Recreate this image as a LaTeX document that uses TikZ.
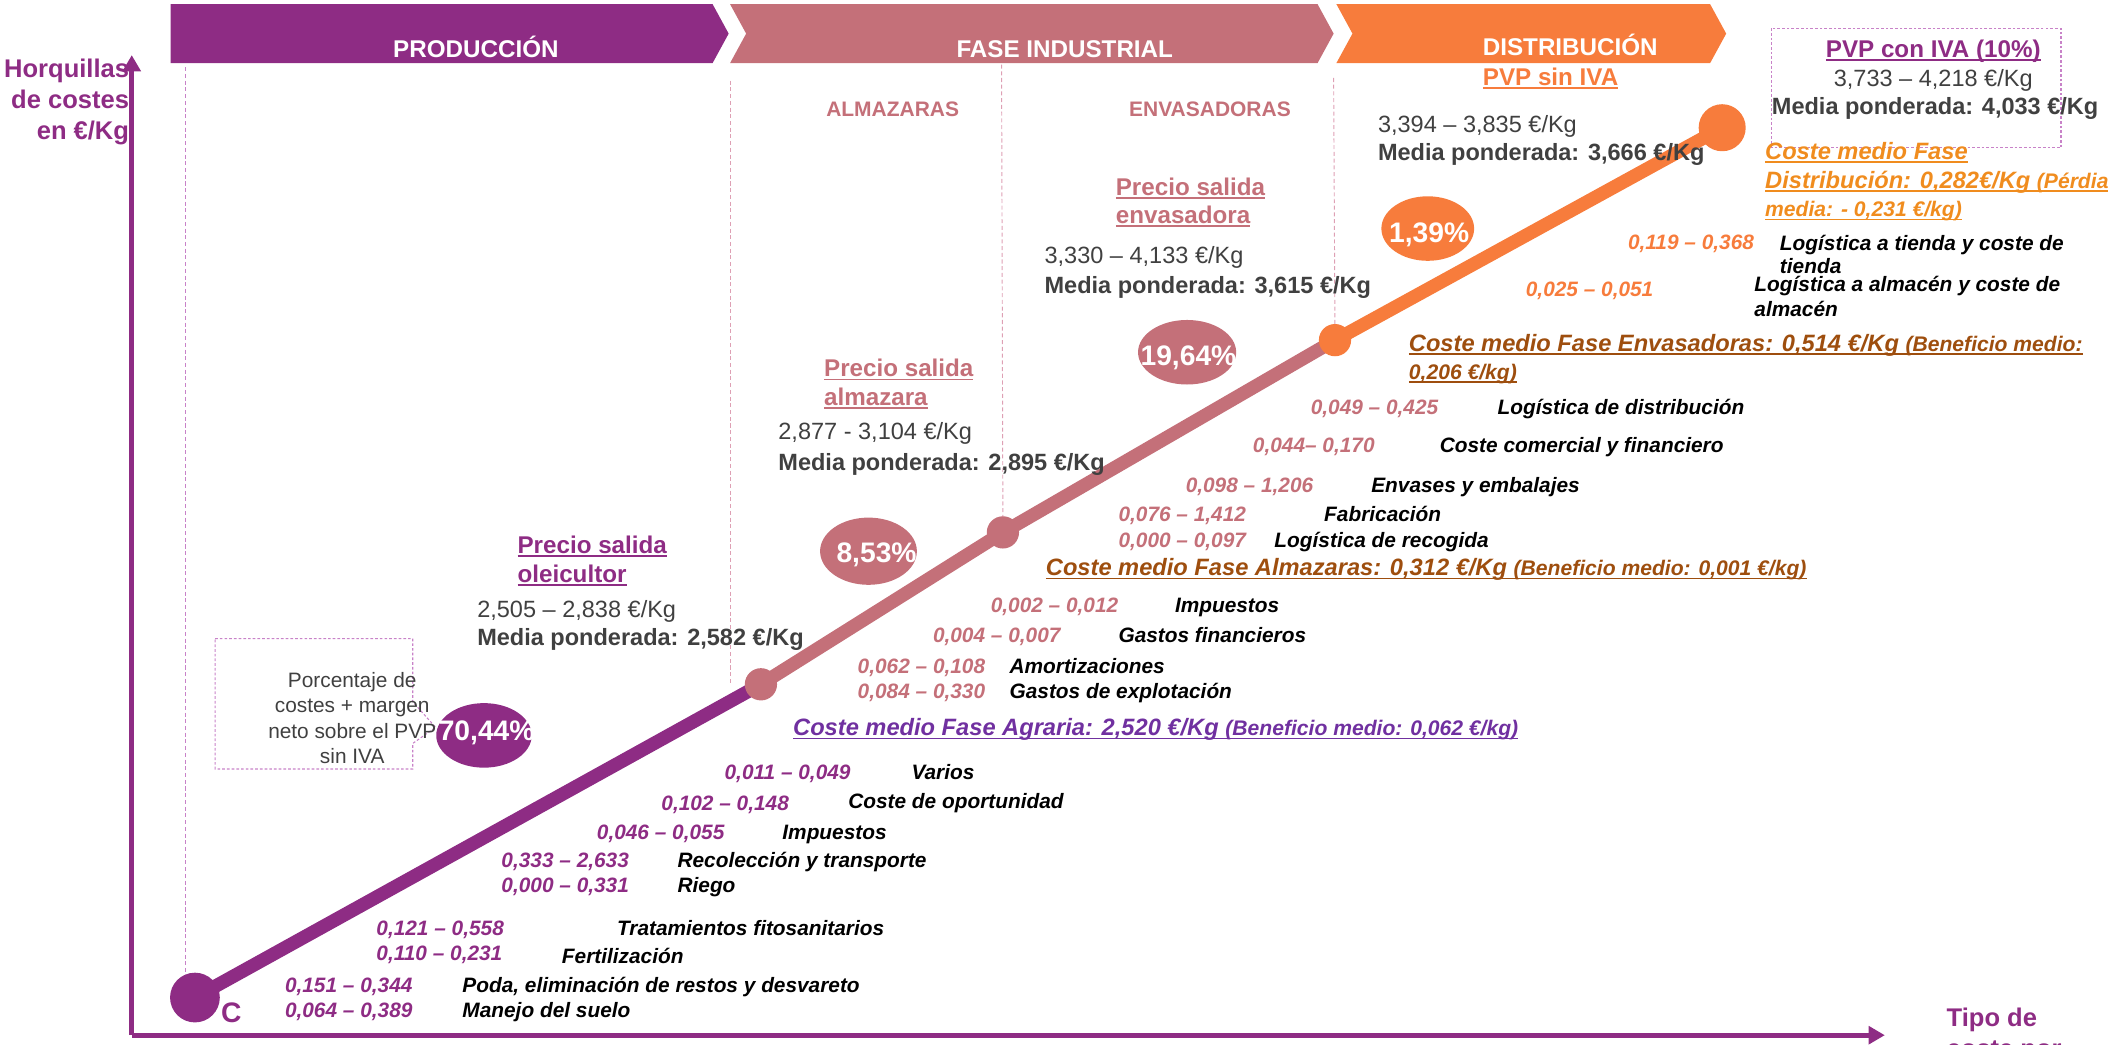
\documentclass[tikz,border=0pt]{standalone}
\usepackage{fontspec}
\setmainfont{Liberation Sans}
\usetikzlibrary{arrows.meta,shapes.geometric}
\definecolor{cPur}{RGB}{142,44,132}
\definecolor{cPink}{RGB}{196,112,121}
\definecolor{cOra}{RGB}{247,124,60}
\definecolor{cGold}{RGB}{240,140,30}
\definecolor{cBrown}{RGB}{158,78,14}
\definecolor{cViol}{RGB}{112,48,160}
\definecolor{cGray}{RGB}{64,64,64}
\definecolor{cDash}{RGB}{222,160,180}
\definecolor{cDashP}{RGB}{200,130,200}
\newcommand\ulx[1]{\setbox0\hbox{#1}\rlap{\rule[-2.6pt]{\wd0}{1.3pt}}\box0}
\newcommand\smf{\fontsize{15.7}{18}\selectfont}
\begin{document}
\begin{tikzpicture}[x=1pt,y=-1pt,
  every node/.style={inner sep=0pt,outer sep=0pt},
  hdr/.style={anchor=base,yshift=-6.4pt,text=white,font=\fontsize{18}{20}\selectfont\bfseries},
  sect/.style={anchor=base,yshift=-5.6pt,text=cPink,font=\fontsize{15.6}{18}\selectfont\bfseries},
  ttl/.style={anchor=base west,yshift=-6.4pt,font=\fontsize{18}{20}\selectfont\bfseries},
  rng/.style={anchor=base west,yshift=-6.2pt,text=cGray,font=\fontsize{17.5}{20}\selectfont},
  med/.style={anchor=base west,yshift=-6.2pt,text=cGray,font=\fontsize{17.5}{20}\selectfont\bfseries},
  cst/.style={anchor=base west,yshift=-5.6pt,font=\fontsize{15.5}{18}\selectfont\bfseries\itshape},
  nA/.style={cst,text=cPur}, nB/.style={cst,text=cPink}, nC/.style={cst,text=cOra},
  itm/.style={cst,text=black},
  avg/.style={anchor=base west,yshift=-6.3pt,font=\fontsize{17.6}{20}\selectfont\bfseries\itshape},
  pct/.style={anchor=base,yshift=-7.5pt,text=white,font=\fontsize{21}{24}\selectfont\bfseries},
  sep/.style={cDash,line width=0.7pt,dash pattern=on 3pt off 2pt},
  route/.style={line width=10pt},
  dotnode/.style={circle,minimum size=24pt},
  bub/.style={ellipse,minimum width=72pt,minimum height=48pt},
  axisline/.style={cPur,line width=3.7pt,-{Triangle[length=12pt,width=13pt]}},
  boxdash/.style={cDashP,line width=0.8pt,dash pattern=on 2pt off 1.5pt},
  ylab/.style={anchor=base east,yshift=-6.8pt,text=cPur,font=\fontsize{19}{21}\selectfont\bfseries}]
\useasboundingbox (0,0) rectangle (1568,777);

% header chevrons
\fill[cPur] (127,3) -- (530,3) -- (542,25) -- (530,47) -- (127,47) -- cycle;
\fill[cPink] (543,3) -- (980,3) -- (992,25) -- (980,47) -- (543,47) -- (555,25) -- cycle;
\fill[cOra] (994,3) -- (1272,3) -- (1284,25) -- (1272,47) -- (994,47) -- (1006,25) -- cycle;
\node[hdr] (hProd) at (354,36) {PRODUCCIÓN};
\node[hdr] (hInd) at (792,36) {FASE INDUSTRIAL};
\node[hdr] (hDist) at (1168,35) {DISTRIBUCIÓN};

% axes
\coordinate (o) at (98,770);
\coordinate (ytip) at (98,41);
\coordinate (xtip) at (1402,770);
\draw[axisline] (o) -- (ytip);
\draw[axisline] (o) -- (xtip);
\node[ylab] (yl1) at (96,51) {Horquillas};
\node[ylab] (yl2) at (96,74) {de costes};
\node[ylab] (yl3) at (96,97) {en €/Kg};
\node[anchor=base west,yshift=-6.8pt,text=cPur,font=\fontsize{19}{20}\selectfont\bfseries] (xl1) at (1448,757) {Tipo de};
\node[anchor=base west,yshift=-6.8pt,text=cPur,font=\fontsize{19}{20}\selectfont\bfseries] (xl2) at (1448,780) {coste por};

% route points
\coordinate (p0) at (145,742);
\coordinate (p1) at (566,509);
\coordinate (p2) at (746,396);
\coordinate (p3) at (993,253);
\coordinate (p4) at (1281,95);

% separators
\coordinate (s0) at (138,50);
\coordinate (s1) at (543,60);
\coordinate (s2) at (745,48);
\coordinate (s3) at (992,58);
\draw[sep,cDashP] (s0) -- (s0 |- p0);
\draw[sep] (s1) -- (s1 |- p1);
\draw[sep] (s2) -- (p2);
\draw[sep] (s3) -- (p3);

% route
\draw[route,cPur] (p0) -- (p1);
\draw[route,cPink] (p1) -- (p2) -- (p3);
\draw[route,cOra] (p3) -- (p4);
\node[dotnode,fill=cPur,minimum size=37pt] (nC0) at (p0) {};
\node[dotnode,fill=cPink] (n1) at (p1) {};
\node[dotnode,fill=cPink] (n2) at (p2) {};
\node[dotnode,fill=cOra] (n3) at (p3) {};
\node[dotnode,fill=cOra,minimum size=35pt] (n4) at (p4) {};
\node[anchor=base,yshift=-7.5pt,text=cPur,font=\fontsize{21}{24}\selectfont\bfseries] (cl) at (172,753) {C};

% percentage bubbles
\node[bub,fill=cPur,minimum width=71pt] (b1) at (360,547) {};
\node[pct] (t1) at (362,543) {70,44\%};
\node[bub,fill=cPink,minimum height=50pt] (b2) at (646,410) {};
\node[pct] (t2) at (652,411) {8,53\%};
\node[bub,fill=cPink,minimum width=73pt] (b3) at (883,262) {};
\node[pct] (t3) at (884,264) {19,64\%};
\node[bub,fill=cOra,minimum width=69pt] (b4) at (1062,170) {};
\node[pct] (t4) at (1063,173) {1,39\%};

% callout
\draw[boxdash] (160,475) -- (307,475) -- (307,522) -- (324,541) -- (307,553) -- (307,572) -- (160,572) -- cycle;
\node[align=center,text=cGray,font=\fontsize{15.5}{19}\selectfont] (co) at (262,534) {Porcentaje de\\costes + margen\\neto sobre el PVP\\sin IVA};

% section labels
\node[sect] (sA) at (664,81) {ALMAZARAS};
\node[sect] (sE) at (900,81) {ENVASADORAS};

% price blocks
\node[ttl,text=cPur] (pa1) at (385,405) {\ulx{Precio salida}};
\node[ttl,text=cPur] (pa2) at (385,427) {\ulx{oleicultor}};
\node[rng] (pa3) at (355,453) {2,505 – 2,838 €/Kg};
\node[med] (pa4) at (355,474) {Media ponderada: 2,582 €/Kg};

\node[ttl,text=cPink] (pb1) at (613,274) {\ulx{Precio salida}};
\node[ttl,text=cPink] (pb2) at (613,295) {\ulx{almazara}};
\node[rng] (pb3) at (579,321) {2,877 - 3,104 €/Kg};
\node[med] (pb4) at (579,344) {Media ponderada: 2,895 €/Kg};

\node[ttl,text=cPink] (pc1) at (830,139) {\ulx{Precio salida}};
\node[ttl,text=cPink] (pc2) at (830,160) {\ulx{envasadora}};
\node[rng] (pc3) at (777,190) {3,330 – 4,133 €/Kg};
\node[med] (pc4) at (777,212) {Media ponderada: 3,615 €/Kg};

\node[ttl,text=cOra] (pd1) at (1103,57) {\ulx{PVP sin IVA}};
\node[rng] (pd3) at (1025,92) {3,394 – 3,835 €/Kg};
\node[med] (pd4) at (1025,113) {Media ponderada: 3,666 €/Kg};

\draw[boxdash] (1318,21) rectangle (1533,110);
\node[ttl,anchor=base,text=cPur] (pe1) at (1438,36) {\ulx{PVP con IVA (10\%)}};
\node[rng,anchor=base] (pe3) at (1438,58) {3,733 – 4,218 €/Kg};
\node[med] (pe4) at (1318,79) {Media ponderada: 4,033 €/Kg};

% agrarian costs
\node[nA] (a1) at (212,751) {0,064 – 0,389};
\node[itm] (a1t) at (344,751) {Manejo del suelo};
\node[nA] (a2) at (212,733) {0,151 – 0,344};
\node[itm] (a2t) at (344,733) {Poda, eliminación de restos y desvareto};
\node[nA] (a3) at (280,709) {0,110 – 0,231};
\node[itm] (a3t) at (418,711) {Fertilización};
\node[nA] (a4) at (280,690) {0,121 – 0,558};
\node[itm] (a4t) at (459,690) {Tratamientos fitosanitarios};
\node[nA] (a5) at (373,658) {0,000 – 0,331};
\node[itm] (a5t) at (504,658) {Riego};
\node[nA] (a6) at (373,640) {0,333 – 2,633};
\node[itm] (a6t) at (504,640) {Recolección y transporte};
\node[nA] (a7) at (444,619) {0,046 – 0,055};
\node[itm] (a7t) at (582,619) {Impuestos};
\node[nA] (a8) at (492,597) {0,102 – 0,148};
\node[itm] (a8t) at (631,596) {Coste de oportunidad};
\node[nA] (a9) at (539,574) {0,011 – 0,049};
\node[itm] (a9t) at (678,574) {Varios};
\node[avg,text=cViol] (aavg) at (590,541) {\ulx{Coste medio Fase Agraria: 2,520 €/Kg {\smf(Beneficio medio: 0,062 €/kg)}}};

% almazara costs
\node[nB] (m1) at (638,514) {0,084 – 0,330};
\node[itm] (m1t) at (751,514) {Gastos de explotación};
\node[nB] (m2) at (638,495) {0,062 – 0,108};
\node[itm] (m2t) at (751,495) {Amortizaciones};
\node[nB] (m3) at (694,472) {0,004 – 0,007};
\node[itm] (m3t) at (832,472) {Gastos financieros};
\node[nB] (m4) at (737,450) {0,002 – 0,012};
\node[itm] (m4t) at (874,450) {Impuestos};
\node[avg,text=cBrown] (mavg) at (778,422) {\ulx{Coste medio Fase Almazaras: 0,312 €/Kg {\smf(Beneficio medio: 0,001 €/kg)}}};

% envasadora costs
\node[nB] (e1) at (832,402) {0,000 – 0,097};
\node[itm] (e1t) at (948,402) {Logística de recogida};
\node[nB] (e2) at (832,382) {0,076 – 1,412};
\node[itm] (e2t) at (985,382) {Fabricación};
\node[nB] (e3) at (882,361) {0,098 – 1,206};
\node[itm] (e3t) at (1020,361) {Envases y embalajes};
\node[nB] (e4) at (932,331) {0,044– 0,170};
\node[itm] (e4t) at (1071,331) {Coste comercial y financiero};
\node[nB] (e5) at (975,303) {0,049 – 0,425};
\node[itm] (e5t) at (1114,303) {Logística de distribución};
\node[avg,text=cBrown] (eavg1) at (1048,255) {\ulx{Coste medio Fase Envasadoras: 0,514 €/Kg {\smf(Beneficio medio:}}};
\node[avg,text=cBrown] (eavg2) at (1048,276) {\ulx{\smf 0,206 €/kg)}};

% distribution costs
\node[nC] (d1) at (1135,215) {0,025 – 0,051};
\node[itm] (d1t) at (1305,211) {Logística a almacén y coste de};
\node[itm] (d1u) at (1305,230) {almacén};
\node[nC] (d2) at (1211,180) {0,119 – 0,368};
\node[itm] (d2t) at (1324,181) {Logística a tienda y coste de};
\node[itm] (d2u) at (1324,198) {tienda};
\node[avg,text=cGold] (davg1) at (1313,112) {\ulx{Coste medio Fase}};
\node[avg,text=cGold] (davg2) at (1313,134) {\ulx{Distribución: 0,282€/Kg {\smf(Pérdia}}};
\node[avg,text=cGold] (davg3) at (1313,155) {\ulx{\smf media: - 0,231 €/kg)}};
\end{tikzpicture}
\end{document}
